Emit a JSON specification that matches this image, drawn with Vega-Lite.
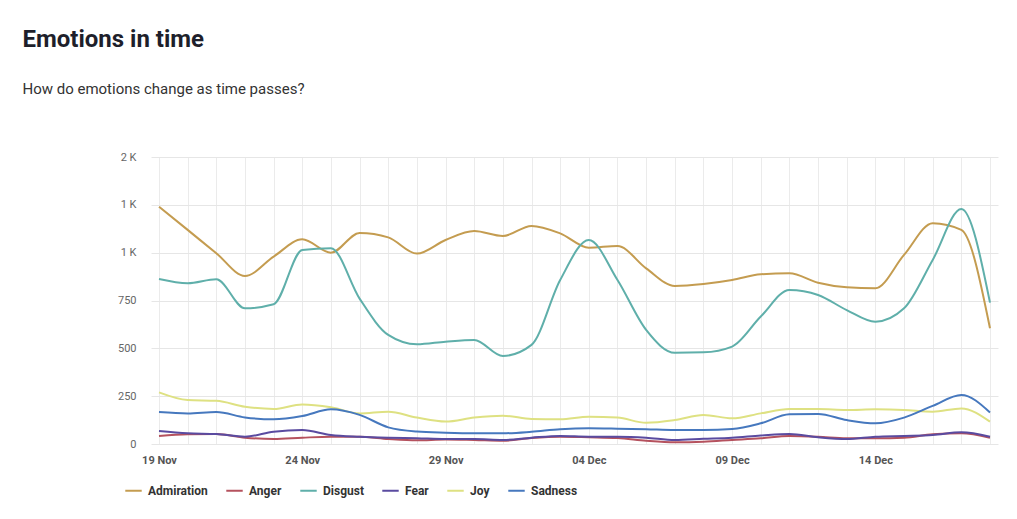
{
  "$schema": "https://vega.github.io/schema/vega-lite/v6.json",
  "width": 847,
  "height": 287,
  "padding": {"left": 22, "top": 28, "right": 10, "bottom": 10},
  "background": "white",
  "title": {
    "text": "Emotions in time",
    "subtitle": "How do emotions change as time passes?",
    "anchor": "start",
    "dx": -95,
    "font": "Roboto",
    "fontSize": 24,
    "fontWeight": "bold",
    "color": "#1e1f2b",
    "subtitleFont": "Roboto",
    "subtitleFontSize": 15,
    "subtitleColor": "#333333",
    "subtitlePadding": 30,
    "offset": 54
  },
  "config": {
    "view": {"stroke": null},
    "font": "Roboto"
  },
  "data": {
    "values": [
      {"date": "2023-11-19", "emotion": "Admiration", "value": 1240},
      {"date": "2023-11-20", "emotion": "Admiration", "value": 1119},
      {"date": "2023-11-21", "emotion": "Admiration", "value": 997},
      {"date": "2023-11-22", "emotion": "Admiration", "value": 878},
      {"date": "2023-11-23", "emotion": "Admiration", "value": 979},
      {"date": "2023-11-24", "emotion": "Admiration", "value": 1070},
      {"date": "2023-11-25", "emotion": "Admiration", "value": 1000},
      {"date": "2023-11-26", "emotion": "Admiration", "value": 1103},
      {"date": "2023-11-27", "emotion": "Admiration", "value": 1080},
      {"date": "2023-11-28", "emotion": "Admiration", "value": 995},
      {"date": "2023-11-29", "emotion": "Admiration", "value": 1066},
      {"date": "2023-11-30", "emotion": "Admiration", "value": 1113},
      {"date": "2023-12-01", "emotion": "Admiration", "value": 1087},
      {"date": "2023-12-02", "emotion": "Admiration", "value": 1140},
      {"date": "2023-12-03", "emotion": "Admiration", "value": 1101},
      {"date": "2023-12-04", "emotion": "Admiration", "value": 1026},
      {"date": "2023-12-05", "emotion": "Admiration", "value": 1035},
      {"date": "2023-12-06", "emotion": "Admiration", "value": 918},
      {"date": "2023-12-07", "emotion": "Admiration", "value": 826},
      {"date": "2023-12-08", "emotion": "Admiration", "value": 836},
      {"date": "2023-12-09", "emotion": "Admiration", "value": 857},
      {"date": "2023-12-10", "emotion": "Admiration", "value": 887},
      {"date": "2023-12-11", "emotion": "Admiration", "value": 892},
      {"date": "2023-12-12", "emotion": "Admiration", "value": 843},
      {"date": "2023-12-13", "emotion": "Admiration", "value": 819},
      {"date": "2023-12-14", "emotion": "Admiration", "value": 814},
      {"date": "2023-12-15", "emotion": "Admiration", "value": 988},
      {"date": "2023-12-16", "emotion": "Admiration", "value": 1154},
      {"date": "2023-12-17", "emotion": "Admiration", "value": 1119},
      {"date": "2023-12-18", "emotion": "Admiration", "value": 605},

      {"date": "2023-11-19", "emotion": "Anger", "value": 42},
      {"date": "2023-11-20", "emotion": "Anger", "value": 51},
      {"date": "2023-11-21", "emotion": "Anger", "value": 52},
      {"date": "2023-11-22", "emotion": "Anger", "value": 33},
      {"date": "2023-11-23", "emotion": "Anger", "value": 26},
      {"date": "2023-11-24", "emotion": "Anger", "value": 33},
      {"date": "2023-11-25", "emotion": "Anger", "value": 38},
      {"date": "2023-11-26", "emotion": "Anger", "value": 38},
      {"date": "2023-11-27", "emotion": "Anger", "value": 26},
      {"date": "2023-11-28", "emotion": "Anger", "value": 19},
      {"date": "2023-11-29", "emotion": "Anger", "value": 24},
      {"date": "2023-11-30", "emotion": "Anger", "value": 21},
      {"date": "2023-12-01", "emotion": "Anger", "value": 17},
      {"date": "2023-12-02", "emotion": "Anger", "value": 31},
      {"date": "2023-12-03", "emotion": "Anger", "value": 38},
      {"date": "2023-12-04", "emotion": "Anger", "value": 35},
      {"date": "2023-12-05", "emotion": "Anger", "value": 31},
      {"date": "2023-12-06", "emotion": "Anger", "value": 17},
      {"date": "2023-12-07", "emotion": "Anger", "value": 9},
      {"date": "2023-12-08", "emotion": "Anger", "value": 12},
      {"date": "2023-12-09", "emotion": "Anger", "value": 21},
      {"date": "2023-12-10", "emotion": "Anger", "value": 30},
      {"date": "2023-12-11", "emotion": "Anger", "value": 42},
      {"date": "2023-12-12", "emotion": "Anger", "value": 38},
      {"date": "2023-12-13", "emotion": "Anger", "value": 30},
      {"date": "2023-12-14", "emotion": "Anger", "value": 30},
      {"date": "2023-12-15", "emotion": "Anger", "value": 33},
      {"date": "2023-12-16", "emotion": "Anger", "value": 51},
      {"date": "2023-12-17", "emotion": "Anger", "value": 56},
      {"date": "2023-12-18", "emotion": "Anger", "value": 33},

      {"date": "2023-11-19", "emotion": "Disgust", "value": 862},
      {"date": "2023-11-20", "emotion": "Disgust", "value": 840},
      {"date": "2023-11-21", "emotion": "Disgust", "value": 861},
      {"date": "2023-11-22", "emotion": "Disgust", "value": 709},
      {"date": "2023-11-23", "emotion": "Disgust", "value": 730},
      {"date": "2023-11-24", "emotion": "Disgust", "value": 1014},
      {"date": "2023-11-25", "emotion": "Disgust", "value": 1023},
      {"date": "2023-11-26", "emotion": "Disgust", "value": 760},
      {"date": "2023-11-27", "emotion": "Disgust", "value": 570},
      {"date": "2023-11-28", "emotion": "Disgust", "value": 521},
      {"date": "2023-11-29", "emotion": "Disgust", "value": 535},
      {"date": "2023-11-30", "emotion": "Disgust", "value": 544},
      {"date": "2023-12-01", "emotion": "Disgust", "value": 460},
      {"date": "2023-12-02", "emotion": "Disgust", "value": 518},
      {"date": "2023-12-03", "emotion": "Disgust", "value": 857},
      {"date": "2023-12-04", "emotion": "Disgust", "value": 1066},
      {"date": "2023-12-05", "emotion": "Disgust", "value": 857},
      {"date": "2023-12-06", "emotion": "Disgust", "value": 596},
      {"date": "2023-12-07", "emotion": "Disgust", "value": 477},
      {"date": "2023-12-08", "emotion": "Disgust", "value": 479},
      {"date": "2023-12-09", "emotion": "Disgust", "value": 509},
      {"date": "2023-12-10", "emotion": "Disgust", "value": 666},
      {"date": "2023-12-11", "emotion": "Disgust", "value": 805},
      {"date": "2023-12-12", "emotion": "Disgust", "value": 779},
      {"date": "2023-12-13", "emotion": "Disgust", "value": 700},
      {"date": "2023-12-14", "emotion": "Disgust", "value": 639},
      {"date": "2023-12-15", "emotion": "Disgust", "value": 709},
      {"date": "2023-12-16", "emotion": "Disgust", "value": 962},
      {"date": "2023-12-17", "emotion": "Disgust", "value": 1228},
      {"date": "2023-12-18", "emotion": "Disgust", "value": 739},

      {"date": "2023-11-19", "emotion": "Fear", "value": 68},
      {"date": "2023-11-20", "emotion": "Fear", "value": 56},
      {"date": "2023-11-21", "emotion": "Fear", "value": 52},
      {"date": "2023-11-22", "emotion": "Fear", "value": 38},
      {"date": "2023-11-23", "emotion": "Fear", "value": 64},
      {"date": "2023-11-24", "emotion": "Fear", "value": 73},
      {"date": "2023-11-25", "emotion": "Fear", "value": 47},
      {"date": "2023-11-26", "emotion": "Fear", "value": 38},
      {"date": "2023-11-27", "emotion": "Fear", "value": 33},
      {"date": "2023-11-28", "emotion": "Fear", "value": 30},
      {"date": "2023-11-29", "emotion": "Fear", "value": 26},
      {"date": "2023-11-30", "emotion": "Fear", "value": 26},
      {"date": "2023-12-01", "emotion": "Fear", "value": 21},
      {"date": "2023-12-02", "emotion": "Fear", "value": 33},
      {"date": "2023-12-03", "emotion": "Fear", "value": 42},
      {"date": "2023-12-04", "emotion": "Fear", "value": 38},
      {"date": "2023-12-05", "emotion": "Fear", "value": 38},
      {"date": "2023-12-06", "emotion": "Fear", "value": 33},
      {"date": "2023-12-07", "emotion": "Fear", "value": 21},
      {"date": "2023-12-08", "emotion": "Fear", "value": 27},
      {"date": "2023-12-09", "emotion": "Fear", "value": 33},
      {"date": "2023-12-10", "emotion": "Fear", "value": 44},
      {"date": "2023-12-11", "emotion": "Fear", "value": 52},
      {"date": "2023-12-12", "emotion": "Fear", "value": 35},
      {"date": "2023-12-13", "emotion": "Fear", "value": 26},
      {"date": "2023-12-14", "emotion": "Fear", "value": 38},
      {"date": "2023-12-15", "emotion": "Fear", "value": 42},
      {"date": "2023-12-16", "emotion": "Fear", "value": 47},
      {"date": "2023-12-17", "emotion": "Fear", "value": 61},
      {"date": "2023-12-18", "emotion": "Fear", "value": 38},

      {"date": "2023-11-19", "emotion": "Joy", "value": 270},
      {"date": "2023-11-20", "emotion": "Joy", "value": 230},
      {"date": "2023-11-21", "emotion": "Joy", "value": 226},
      {"date": "2023-11-22", "emotion": "Joy", "value": 195},
      {"date": "2023-11-23", "emotion": "Joy", "value": 183},
      {"date": "2023-11-24", "emotion": "Joy", "value": 207},
      {"date": "2023-11-25", "emotion": "Joy", "value": 192},
      {"date": "2023-11-26", "emotion": "Joy", "value": 160},
      {"date": "2023-11-27", "emotion": "Joy", "value": 169},
      {"date": "2023-11-28", "emotion": "Joy", "value": 138},
      {"date": "2023-11-29", "emotion": "Joy", "value": 117},
      {"date": "2023-11-30", "emotion": "Joy", "value": 138},
      {"date": "2023-12-01", "emotion": "Joy", "value": 148},
      {"date": "2023-12-02", "emotion": "Joy", "value": 131},
      {"date": "2023-12-03", "emotion": "Joy", "value": 129},
      {"date": "2023-12-04", "emotion": "Joy", "value": 143},
      {"date": "2023-12-05", "emotion": "Joy", "value": 138},
      {"date": "2023-12-06", "emotion": "Joy", "value": 111},
      {"date": "2023-12-07", "emotion": "Joy", "value": 125},
      {"date": "2023-12-08", "emotion": "Joy", "value": 152},
      {"date": "2023-12-09", "emotion": "Joy", "value": 134},
      {"date": "2023-12-10", "emotion": "Joy", "value": 160},
      {"date": "2023-12-11", "emotion": "Joy", "value": 183},
      {"date": "2023-12-12", "emotion": "Joy", "value": 183},
      {"date": "2023-12-13", "emotion": "Joy", "value": 178},
      {"date": "2023-12-14", "emotion": "Joy", "value": 181},
      {"date": "2023-12-15", "emotion": "Joy", "value": 178},
      {"date": "2023-12-16", "emotion": "Joy", "value": 169},
      {"date": "2023-12-17", "emotion": "Joy", "value": 186},
      {"date": "2023-12-18", "emotion": "Joy", "value": 117},

      {"date": "2023-11-19", "emotion": "Sadness", "value": 167},
      {"date": "2023-11-20", "emotion": "Sadness", "value": 160},
      {"date": "2023-11-21", "emotion": "Sadness", "value": 167},
      {"date": "2023-11-22", "emotion": "Sadness", "value": 139},
      {"date": "2023-11-23", "emotion": "Sadness", "value": 129},
      {"date": "2023-11-24", "emotion": "Sadness", "value": 146},
      {"date": "2023-11-25", "emotion": "Sadness", "value": 181},
      {"date": "2023-11-26", "emotion": "Sadness", "value": 152},
      {"date": "2023-11-27", "emotion": "Sadness", "value": 87},
      {"date": "2023-11-28", "emotion": "Sadness", "value": 65},
      {"date": "2023-11-29", "emotion": "Sadness", "value": 59},
      {"date": "2023-11-30", "emotion": "Sadness", "value": 56},
      {"date": "2023-12-01", "emotion": "Sadness", "value": 56},
      {"date": "2023-12-02", "emotion": "Sadness", "value": 64},
      {"date": "2023-12-03", "emotion": "Sadness", "value": 77},
      {"date": "2023-12-04", "emotion": "Sadness", "value": 82},
      {"date": "2023-12-05", "emotion": "Sadness", "value": 80},
      {"date": "2023-12-06", "emotion": "Sadness", "value": 77},
      {"date": "2023-12-07", "emotion": "Sadness", "value": 73},
      {"date": "2023-12-08", "emotion": "Sadness", "value": 73},
      {"date": "2023-12-09", "emotion": "Sadness", "value": 78},
      {"date": "2023-12-10", "emotion": "Sadness", "value": 108},
      {"date": "2023-12-11", "emotion": "Sadness", "value": 155},
      {"date": "2023-12-12", "emotion": "Sadness", "value": 157},
      {"date": "2023-12-13", "emotion": "Sadness", "value": 125},
      {"date": "2023-12-14", "emotion": "Sadness", "value": 108},
      {"date": "2023-12-15", "emotion": "Sadness", "value": 138},
      {"date": "2023-12-16", "emotion": "Sadness", "value": 199},
      {"date": "2023-12-17", "emotion": "Sadness", "value": 256},
      {"date": "2023-12-18", "emotion": "Sadness", "value": 165}
    ]
  },
  "mark": {"type": "line", "interpolate": "monotone", "strokeWidth": 2},
  "encoding": {
    "x": {
      "field": "date",
      "type": "temporal",
      "title": null,
      "scale": {"type": "utc", "padding": 8, "nice": false},
      "axis": {
        "tickCount": {"interval": "day", "step": 1},
        "labelExpr": "round((datum.value - utc(2023,10,19)) / 86400000) % 5 == 0 ? utcFormat(datum.value, '%d %b') : ''",
        "labelOverlap": false,
        "labelFlush": false,
        "labelFont": "Roboto",
        "labelFontSize": 11,
        "labelFontWeight": "bold",
        "labelColor": "#555555",
        "labelPadding": 10,
        "ticks": false,
        "domain": false,
        "grid": true,
        "gridColor": "#ebebeb",
        "gridWidth": 1
      }
    },
    "y": {
      "field": "value",
      "type": "quantitative",
      "title": null,
      "scale": {"domain": [0, 1500], "nice": false},
      "axis": {
        "values": [0, 250, 500, 750, 1000, 1250, 1500],
        "labelExpr": "datum.value >= 1000 ? format(datum.value / 1000, '.0f') + ' K' : datum.value",
        "labelFont": "Roboto",
        "labelFontSize": 11,
        "labelColor": "#666666",
        "labelPadding": 15,
        "ticks": false,
        "domain": false,
        "gridColor": "#e6e6e6",
        "gridWidth": 1
      }
    },
    "color": {
      "field": "emotion",
      "type": "nominal",
      "title": null,
      "scale": {
        "domain": ["Admiration", "Anger", "Disgust", "Fear", "Joy", "Sadness"],
        "range": ["#c49c50", "#b5525e", "#5fafaa", "#5a4ba0", "#dee182", "#4678be"]
      },
      "legend": {
        "orient": "none",
        "legendX": -27,
        "legendY": 324,
        "direction": "horizontal",
        "symbolType": "stroke",
        "symbolSize": 270,
        "symbolStrokeWidth": 2,
        "labelFont": "Roboto",
        "labelFontSize": 12,
        "labelFontWeight": "bold",
        "labelColor": "#333333",
        "labelOffset": 5,
        "columnPadding": 14
      }
    }
  }
}
